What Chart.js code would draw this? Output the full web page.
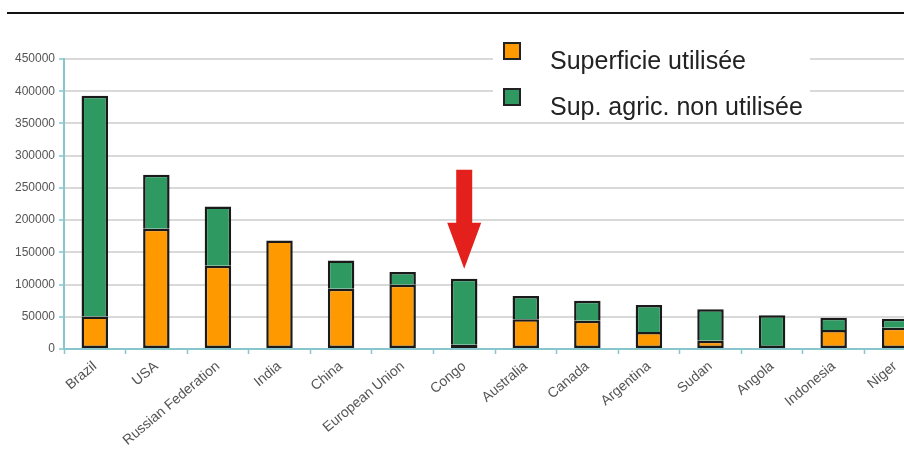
<!DOCTYPE html>
<html>
<head>
<meta charset="utf-8">
<script src="https://cdn.jsdelivr.net/npm/chart.js@4"></script>
<style>
  html, body { margin: 0; padding: 0; background: #fff; overflow: hidden; }
  #wrap { position: relative; width: 904px; height: 461px; overflow: hidden; }
  #topline { position: absolute; left: 7px; right: 0; top: 12px; height: 2px; background: #111; }
  #chart-1 { position: absolute; left: 0; top: 0; }
  #legend {
    position: absolute; left: 493px; top: 32px; width: 317px; height: 86px;
    background: #fff; font-family: "Liberation Sans", Arial, sans-serif; font-size: 25px; color: #222;
  }
  .item { position: absolute; left: 0; white-space: nowrap; }
  .box { position: absolute; left: 10px; width: 14px; height: 14px; border: 2px solid #222; }
  .txt { position: absolute; left: 57px; }
</style>
</head>
<body>
<div id="wrap">
  <div id="topline"></div>
  <canvas id="chart-1" width="926" height="461"></canvas>
  <div id="legend">
    <div class="item" style="top:0"><span class="box" style="top:10px;background:#ff9900"></span><span class="txt" style="top:14px">Superficie utilisée</span></div>
    <div class="item" style="top:46px"><span class="box" style="top:10px;background:#2e9a62"></span><span class="txt" style="top:14px">Sup. agric. non utilisée</span></div>
  </div>
</div>
<script>
const countries = ["Brazil", "USA", "Russian Federation", "India", "China", "European Union", "Congo",
  "Australia", "Canada", "Argentina", "Sudan", "Angola", "Indonesia", "Niger"];
const usedArea = [50600, 186700, 129300, 168500, 93600, 99800, 6700, 46100, 44000, 26400, 12900, null, 29500, 33000];
const unusedArea = [342500, 83800, 92000, null, 43900, 19700, 102400, 36200, 31000, 41900, 48700, 52300, 19100, 14000];
const yTicks = [0, 50000, 100000, 150000, 200000, 250000, 300000, 350000, 400000, 450000];
const markedCountry = "Congo";

const teal = "#86c6cc";

const redArrow = {
  id: "redArrow",
  afterDatasetsDraw(chart) {
    const i = countries.indexOf(markedCountry);
    const x = chart.scales.x.getPixelForValue(i);
    const total = (usedArea[i] || 0) + (unusedArea[i] || 0);
    const tip = chart.scales.y.getPixelForValue(total) - 10;
    const ctx = chart.ctx;
    ctx.save();
    ctx.fillStyle = "#e3201b";
    ctx.beginPath();
    ctx.moveTo(x - 8, tip - 99);
    ctx.lineTo(x + 8, tip - 99);
    ctx.lineTo(x + 8, tip - 46);
    ctx.lineTo(x + 17, tip - 46);
    ctx.lineTo(x, tip);
    ctx.lineTo(x - 17, tip - 46);
    ctx.lineTo(x - 8, tip - 46);
    ctx.closePath();
    ctx.fill();
    ctx.restore();
  },
};

// green sits on top of orange: skip its bottom edge unless it starts at 0
const greenSkip = (ctx) => (usedArea[ctx.dataIndex] ? "start" : false);

const data = {
  labels: countries,
  datasets: [
    {
      label: "Superficie utilisée",
      data: usedArea,
      backgroundColor: "#ff9900",
      borderColor: "#1a1a1a",
      borderWidth: 2.5,
      borderSkipped: false,
    },
    {
      label: "Sup. agric. non utilisée",
      data: unusedArea,
      backgroundColor: "#2e9a62",
      borderColor: "#1a1a1a",
      borderWidth: 2.5,
      borderSkipped: greenSkip,
    },
  ],
};

const config = {
  type: "bar",
  data: data,
  options: {
    responsive: false,
    animation: false,
    layout: { padding: { top: 59, right: 0, left: 0, bottom: 0 } },
    datasets: { bar: { categoryPercentage: 1, barPercentage: 0.43 } },
    scales: {
      x: {
        stacked: true,
        offset: true,
        afterFit(scale) { scale.height = 461 - 349; },
        grid: { offset: true, drawOnChartArea: false, tickLength: 5, tickColor: teal, tickWidth: 1.5 },
        border: { color: teal, width: 2 },
        ticks: {
          minRotation: 40,
          maxRotation: 40,
          padding: 4,
          autoSkip: false,
          color: "#555",
          font: { family: "Liberation Sans, Arial, sans-serif", size: 14 },
        },
      },
      y: {
        stacked: true,
        min: 0,
        max: 450000,
        afterFit(scale) { scale.width = 64; },
        afterBuildTicks(scale) { scale.ticks = yTicks.map((v) => ({ value: v })); },
        grid: { color: "#d9d9d9", lineWidth: 2, tickLength: 5, tickColor: teal, tickWidth: 1.5 },
        border: { color: teal, width: 2 },
        ticks: {
          padding: 4,
          color: "#555",
          font: { family: "Liberation Sans, Arial, sans-serif", size: 12 },
          callback: (v) => String(v),
        },
      },
    },
    plugins: {
      legend: { display: false },
      tooltip: { enabled: false },
    },
  },
  plugins: [redArrow],
};

const chart1 = new Chart(document.getElementById("chart-1"), config);
</script>
</body>
</html>
